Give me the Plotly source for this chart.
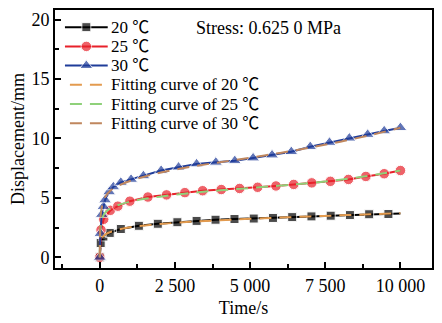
import plotly.graph_objects as go

# Measured creep displacement (mm) at 0.6250 MPa for three temperatures
t20 = [0, 30, 120, 330, 700, 1300, 1930, 2580, 3220, 3850, 4480, 5120, 5760, 6400, 7040, 7680, 8320, 8960, 9600, 10000]
d20 = [0, 1.2, 1.75, 2.05, 2.38, 2.65, 2.82, 2.95, 3.06, 3.16, 3.22, 3.26, 3.31, 3.38, 3.44, 3.5, 3.55, 3.62, 3.64, 3.68]
# the 20 ℃ record carries a marker on every reading except the final one
mark20 = [True] * (len(t20) - 1) + [False]

t25 = [0, 40, 130, 350, 600, 1000, 1600, 2220, 2830, 3420, 4040, 4650, 5250, 5860, 6450, 7050, 7670, 8270, 8850, 9460, 10000]
d25 = [0, 2.3, 3.2, 3.95, 4.3, 4.72, 5.07, 5.25, 5.44, 5.6, 5.7, 5.79, 5.89, 6.0, 6.13, 6.26, 6.39, 6.55, 6.8, 7.03, 7.3]

t30 = [0, 20, 65, 120, 175, 310, 450, 700, 1040, 1450, 2040, 2620, 3220, 3860, 4490, 5100, 5730, 6370, 7000, 7640, 8300, 8910, 9460, 10000]
d30 = [0, 2.0, 3.6, 4.27, 4.82, 5.5, 5.92, 6.3, 6.55, 6.85, 7.3, 7.58, 7.85, 7.99, 8.12, 8.35, 8.6, 8.88, 9.3, 9.66, 10.02, 10.33, 10.63, 10.9]

# Fitted creep curves
fit_t = [0, 10, 30, 60, 100, 200, 350, 600, 1000, 1500, 2000, 3000, 4000, 5000, 6000, 7000, 8000, 9000, 10000]
fit20 = [0, 0.9, 1.3, 1.55, 1.72, 1.95, 2.12, 2.32, 2.52, 2.68, 2.8, 2.98, 3.12, 3.24, 3.34, 3.44, 3.53, 3.62, 3.7]
fit25 = [0, 1.8, 2.6, 3.05, 3.4, 3.82, 4.1, 4.38, 4.68, 4.92, 5.1, 5.4, 5.63, 5.83, 6.03, 6.25, 6.52, 6.88, 7.3]
fit30 = [0, 2.6, 3.5, 4.1, 4.55, 5.15, 5.6, 6.0, 6.42, 6.8, 7.12, 7.6, 8.0, 8.38, 8.78, 9.23, 9.72, 10.28, 10.9]

x_ticks = [0, 2500, 5000, 7500, 10000]
x_tick_text = ["0", "2 500", "5 000", "7 500", "10 000"]
y_ticks = [0, 5, 10, 15, 20]

series_names = ["20 ℃", "25 ℃", "30 ℃"]
fit_names = ["Fitting curve of 20 ℃", "Fitting curve of 25 ℃", "Fitting curve of 30 ℃"]

FONT = "Liberation Serif, Noto Sans CJK SC"
FS = 18
KEY_FS = 17
W, H = 442, 323
ML, MR, MT, MB = 55, 8, 8, 52

fig = go.Figure()

series_style = [
    ("#000000", "square", 9),
    ("#E8212A", "circle", 10.5),
    ("#1F3C99", "triangle-up", 11.5),
]
fit_colors = ["#E39B4F", "#8FD17A", "#C0875E"]
FIT_DASH = "12px,8px"
LW = 2

marks = [mark20, [True] * len(t25), [True] * len(t30)]
for name, t, d, m, (col, sym, size) in zip(series_names, [t20, t25, t30], [d20, d25, d30], marks, series_style):
    fig.add_trace(go.Scatter(
        x=t, y=d, name=name, mode="lines+markers", showlegend=False,
        line=dict(color=col, width=LW),
        marker=dict(symbol=sym, size=[size if k else 0 for k in m], color=col),
    ))

for name, d, col in zip(fit_names, [fit20, fit25, fit30], fit_colors):
    fig.add_trace(go.Scatter(
        x=fit_t, y=d, name=name, mode="lines", showlegend=False,
        line=dict(color=col, width=LW, dash=FIT_DASH, shape="spline"),
    ))

# Key drawn on a pixel-scaled overlay axis pair (x2/y2) so sample length and row pitch are fixed
key_x0, key_x1, key_text_x = 65, 108, 110
key_row0, key_pitch = 25.5, 19.6
key_text = dict(family=FONT, size=KEY_FS, color="#000000")
for i, (name, (col, sym, size)) in enumerate(zip(series_names, series_style)):
    yy = key_row0 + i * key_pitch
    fig.add_trace(go.Scatter(
        x=[key_x0, (key_x0 + key_x1) / 2, key_x1], y=[yy] * 3, xaxis="x2", yaxis="y2",
        mode="lines+markers", showlegend=False, hoverinfo="skip",
        line=dict(color=col, width=LW),
        marker=dict(symbol=sym, size=[0, size, 0], color=col),
    ))
    fig.add_annotation(x=key_text_x, y=yy, xref="x2", yref="y2", text=name, showarrow=False,
                       xanchor="left", yanchor="middle", borderpad=0, font=key_text)
for j, (name, col) in enumerate(zip(fit_names, fit_colors)):
    yy = key_row0 + (j + 3) * key_pitch
    fig.add_trace(go.Scatter(
        x=[key_x0 + 5, key_x1 - 5], y=[yy, yy], xaxis="x2", yaxis="y2",
        mode="lines", showlegend=False, hoverinfo="skip",
        line=dict(color=col, width=LW, dash=FIT_DASH),
    ))
    fig.add_annotation(x=key_text_x, y=yy, xref="x2", yref="y2", text=name, showarrow=False,
                       xanchor="left", yanchor="middle", borderpad=0, font=key_text)

fig.add_annotation(
    x=195, y=26, xref="x2", yref="y2", xanchor="left", yanchor="middle",
    text="Stress: 0.625 0 MPa", showarrow=False,
    font=dict(family=FONT, size=FS, color="#000000"),
)

axis_common = dict(
    showline=True, linecolor="#000000", linewidth=2, mirror=True,
    ticks="inside", ticklen=6, tickwidth=1.5, tickcolor="#000000",
    showgrid=False, zeroline=False,
    tickfont=dict(family=FONT, size=FS, color="#000000"),
)

fig.update_layout(
    width=W, height=H,
    margin=dict(l=ML, r=MR, t=MT, b=MB),
    paper_bgcolor="#FFFFFF", plot_bgcolor="#FFFFFF",
    showlegend=False,
    xaxis=dict(
        range=[-1490, 11050], tickvals=x_ticks, ticktext=x_tick_text,
        minor=dict(dtick=1250, tick0=-1250, ticks="inside", ticklen=4, tickwidth=1.5, tickcolor="#000000"),
        title=dict(text="Time/s", font=dict(family=FONT, size=FS, color="#000000"), standoff=7),
        **axis_common,
    ),
    yaxis=dict(
        range=[-0.9, 20.8], tickvals=y_ticks,
        minor=dict(dtick=2.5, tick0=0, ticks="inside", ticklen=4, tickwidth=1.5, tickcolor="#000000"),
        title=dict(text="Displacement/mm", font=dict(family=FONT, size=FS, color="#000000"), standoff=2),
        **axis_common,
    ),
    xaxis2=dict(overlaying="x", anchor="y2", range=[ML, W - MR], visible=False, fixedrange=True),
    yaxis2=dict(overlaying="y", anchor="x2", range=[H - MB, MT], visible=False, fixedrange=True),
)

fig.write_html("out.html")
